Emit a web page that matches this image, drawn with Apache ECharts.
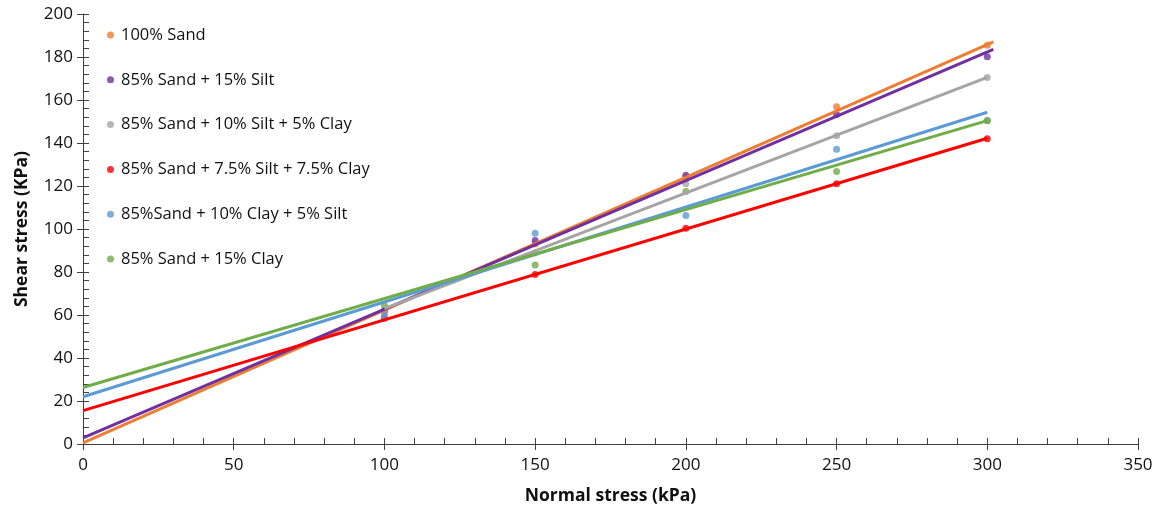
<!DOCTYPE html>
<html>
<head>
<meta charset="utf-8">
<script src="https://cdn.jsdelivr.net/npm/echarts@6/dist/echarts.min.js"></script>
<style>html,body{margin:0;padding:0;background:#fff}#c{width:1158px;height:510px}</style>
</head>
<body>
<div id="c"></div>
<script>
const seriesNames = ['100% Sand','85% Sand + 15% Silt','85% Sand + 10% Silt + 5% Clay','85% Sand + 7.5% Silt + 7.5% Clay','85%Sand + 10% Clay + 5% Silt','85% Sand + 15% Clay'];
const normalStress = [100, 150, 200, 250, 300];
const sand100 = [62, 93, 124, 156.9, 185.5];
const silt15 = [62, 94.6, 125, 153.3, 180.1];
const silt10clay5 = [61, 89, 121, 143.4, 170.5];
const silt75clay75 = [58.5, 78.8, 100.3, 121, 142];
const clay10silt5 = [59.5, 98, 106.3, 137.1, 150.5];
const clay15 = [64.5, 83.3, 117.4, 126.7, 150.4];
// trendline endpoints [x, y]
const trendSand100 = [[0, 0.5], [302, 187]];
const trendSilt15 = [[0, 2.8], [302, 183.5]];
const trendSilt10clay5 = [[100, 63], [300, 170.5]];
const trendSilt75clay75 = [[0, 15.5], [300, 142.2]];
const trendClay10silt5 = [[0, 22], [300, 154.3]];
const trendClay15 = [[0, 26.3], [300, 150.4]];
const colors = ['#ED7D31','#7030A0','#A5A5A5','#FF0000','#5B9BD5','#70AD47'];
const xTicks = [0, 50, 100, 150, 200, 250, 300, 350];
const yTicks = [0, 20, 40, 60, 80, 100, 120, 140, 160, 180, 200];

const pointsSets = [sand100, silt15, silt10clay5, silt75clay75, clay10silt5, clay15];
const trends = [trendSand100, trendSilt15, trendSilt10clay5, trendSilt75clay75, trendClay10silt5, trendClay15];

const series = [];
pointsSets.forEach((vals, i) => {
  series.push({
    name: seriesNames[i], type: 'scatter', symbol: 'circle', symbolSize: 7,
    itemStyle: {color: colors[i]}, z: 2,
    data: normalStress.map((x, k) => [x, vals[k]])
  });
});
trends.forEach((t, i) => {
  series.push({
    name: 'trend' + i, type: 'line', showSymbol: false, symbol: 'none',
    lineStyle: {color: colors[i], width: 3}, z: 3, silent: true,
    data: t
  });
});

const font = 'Open Sans, Liberation Sans, sans-serif';
const chart = echarts.init(document.getElementById('c'), null, {renderer: 'canvas'});
chart.setOption({
  animation: false,
  backgroundColor: '#fff',
  grid: {left: 83, right: 20, top: 14, bottom: 66, containLabel: false},
  legend: {
    data: seriesNames.map((n, i) => ({name: n, icon: 'circle', itemStyle: {color: colors[i]}})),
    orient: 'vertical', left: 102, top: 20,
    itemWidth: 7, itemHeight: 7, itemGap: 24.8,
    textStyle: {fontFamily: font, fontSize: 16.5, color: '#111', lineHeight: 20, padding: [0, 0, 0, 2]}
  },
  xAxis: [{
    type: 'value', min: 0, max: 350, interval: 50,
    name: 'Normal stress (kPa)', nameLocation: 'middle', nameGap: 43,
    nameTextStyle: {fontFamily: font, fontSize: 17.5, fontWeight: 'bold', color: '#111'},
    axisLine: {show: true, lineStyle: {color: '#404040', width: 1}},
    axisTick: {show: true, inside: false, length: 6, lineStyle: {color: '#404040'}},
    axisLabel: {fontFamily: font, fontSize: 17, color: '#111', margin: 13},
    splitLine: {show: false}
  }, {
    type: 'value', min: 0, max: 350, interval: 50, position: 'bottom',
    axisLine: {show: false},
    axisTick: {show: true, inside: true, length: 6, lineStyle: {color: '#404040'}},
    minorTick: {show: true, splitNumber: 5, length: 6, lineStyle: {color: '#404040'}},
    axisLabel: {show: false}, splitLine: {show: false}
  }],
  yAxis: [{
    type: 'value', min: 0, max: 200, interval: 20,
    name: 'Shear stress (KPa)', nameLocation: 'middle', nameGap: 52,
    nameTextStyle: {fontFamily: font, fontSize: 17.5, fontWeight: 'bold', color: '#111'},
    axisLine: {show: true, lineStyle: {color: '#404040', width: 1}},
    axisTick: {show: true, inside: false, length: 6, lineStyle: {color: '#404040'}},
    axisLabel: {fontFamily: font, fontSize: 17, color: '#111', margin: 10},
    splitLine: {show: false}
  }, {
    type: 'value', min: 0, max: 200, interval: 20, position: 'left',
    axisLine: {show: false},
    axisTick: {show: true, inside: true, length: 6, lineStyle: {color: '#404040'}},
    minorTick: {show: true, splitNumber: 5, length: 6, lineStyle: {color: '#404040'}},
    axisLabel: {show: false}, splitLine: {show: false}
  }],
  series: series
});
</script>
</body>
</html>
